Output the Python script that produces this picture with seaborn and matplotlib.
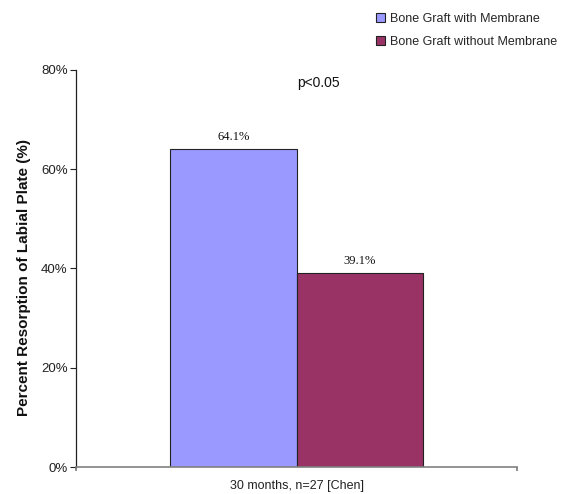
import matplotlib
matplotlib.use("Agg")
import matplotlib.pyplot as plt
import seaborn as sns
import pandas as pd
from matplotlib.ticker import FuncFormatter

categories = ["30 months, n=27 [Chen]"]
series = ["Bone Graft with Membrane", "Bone Graft without Membrane"]
values = [64.1, 39.1]
colors = ["#9999FF", "#993366"]
y_ticks = [0, 20, 40, 60, 80]

df = pd.DataFrame({"cat": categories * len(series), "series": series, "value": values})

sns.set_theme(style="white")
plt.rcParams["font.family"] = ["Liberation Sans", "DejaVu Sans"]

fig = plt.figure(figsize=(5.61, 4.94), dpi=100)
ax = fig.add_axes([76 / 561, 27 / 494, 441 / 561, 397 / 494])

sns.barplot(data=df, x="cat", y="value", hue="series", hue_order=series,
            palette=colors, width=0.574, edgecolor="#222222", linewidth=0.8,
            saturation=1, ax=ax, legend=True)

ax.set_xlim(-0.5, 0.5)
ax.set_ylim(0, 80)
ax.set_yticks(y_ticks)
ax.yaxis.set_major_formatter(FuncFormatter(lambda v, p: f"{v:.0f}%"))
ax.tick_params(axis="y", direction="out", length=4, width=0.8, color="#222222",
               labelsize=9.5, labelcolor="#222222", left=True, pad=2)

ax.set_xticks([-0.5, 0.5])
ax.set_xticklabels(["", ""])
ax.set_xticks([0], minor=True)
ax.set_xticklabels(categories, minor=True)
ax.tick_params(axis="x", which="major", direction="out", length=3, color="#808080", bottom=True)
ax.tick_params(axis="x", which="minor", length=0, labelsize=9, labelcolor="#222222", pad=9)
ax.set_xlabel("")
ax.set_ylabel("Percent Resorption of Labial Plate (%)", fontsize=11, fontweight="bold",
              color="#111111", labelpad=7)
ax.yaxis.label.set_y(0.477)

for side in ["top", "right"]:
    ax.spines[side].set_visible(False)
ax.spines["left"].set_color("#222222")
ax.spines["left"].set_linewidth(0.9)
ax.spines["bottom"].set_color("#808080")
ax.spines["bottom"].set_linewidth(1.2)

for cont in ax.containers:
    for bar in cont:
        h = bar.get_height()
        ax.text(bar.get_x() + bar.get_width() / 2, h + 1.2, f"{h:.1f}%",
                ha="center", va="bottom", fontsize=9, family="Liberation Serif",
                color="#111111")

ax.text(0.049, 77.3, "p<0.05", ha="center", va="center", fontsize=10, color="#111111")

leg = ax.legend(loc="upper left", bbox_to_anchor=(363 / 561, 1.0), bbox_transform=fig.transFigure,
                frameon=False, fontsize=9, handlelength=0.7, handleheight=0.7,
                handletextpad=0.45, labelspacing=0.85, borderaxespad=0.65)

fig.savefig("out.png", dpi=100)
